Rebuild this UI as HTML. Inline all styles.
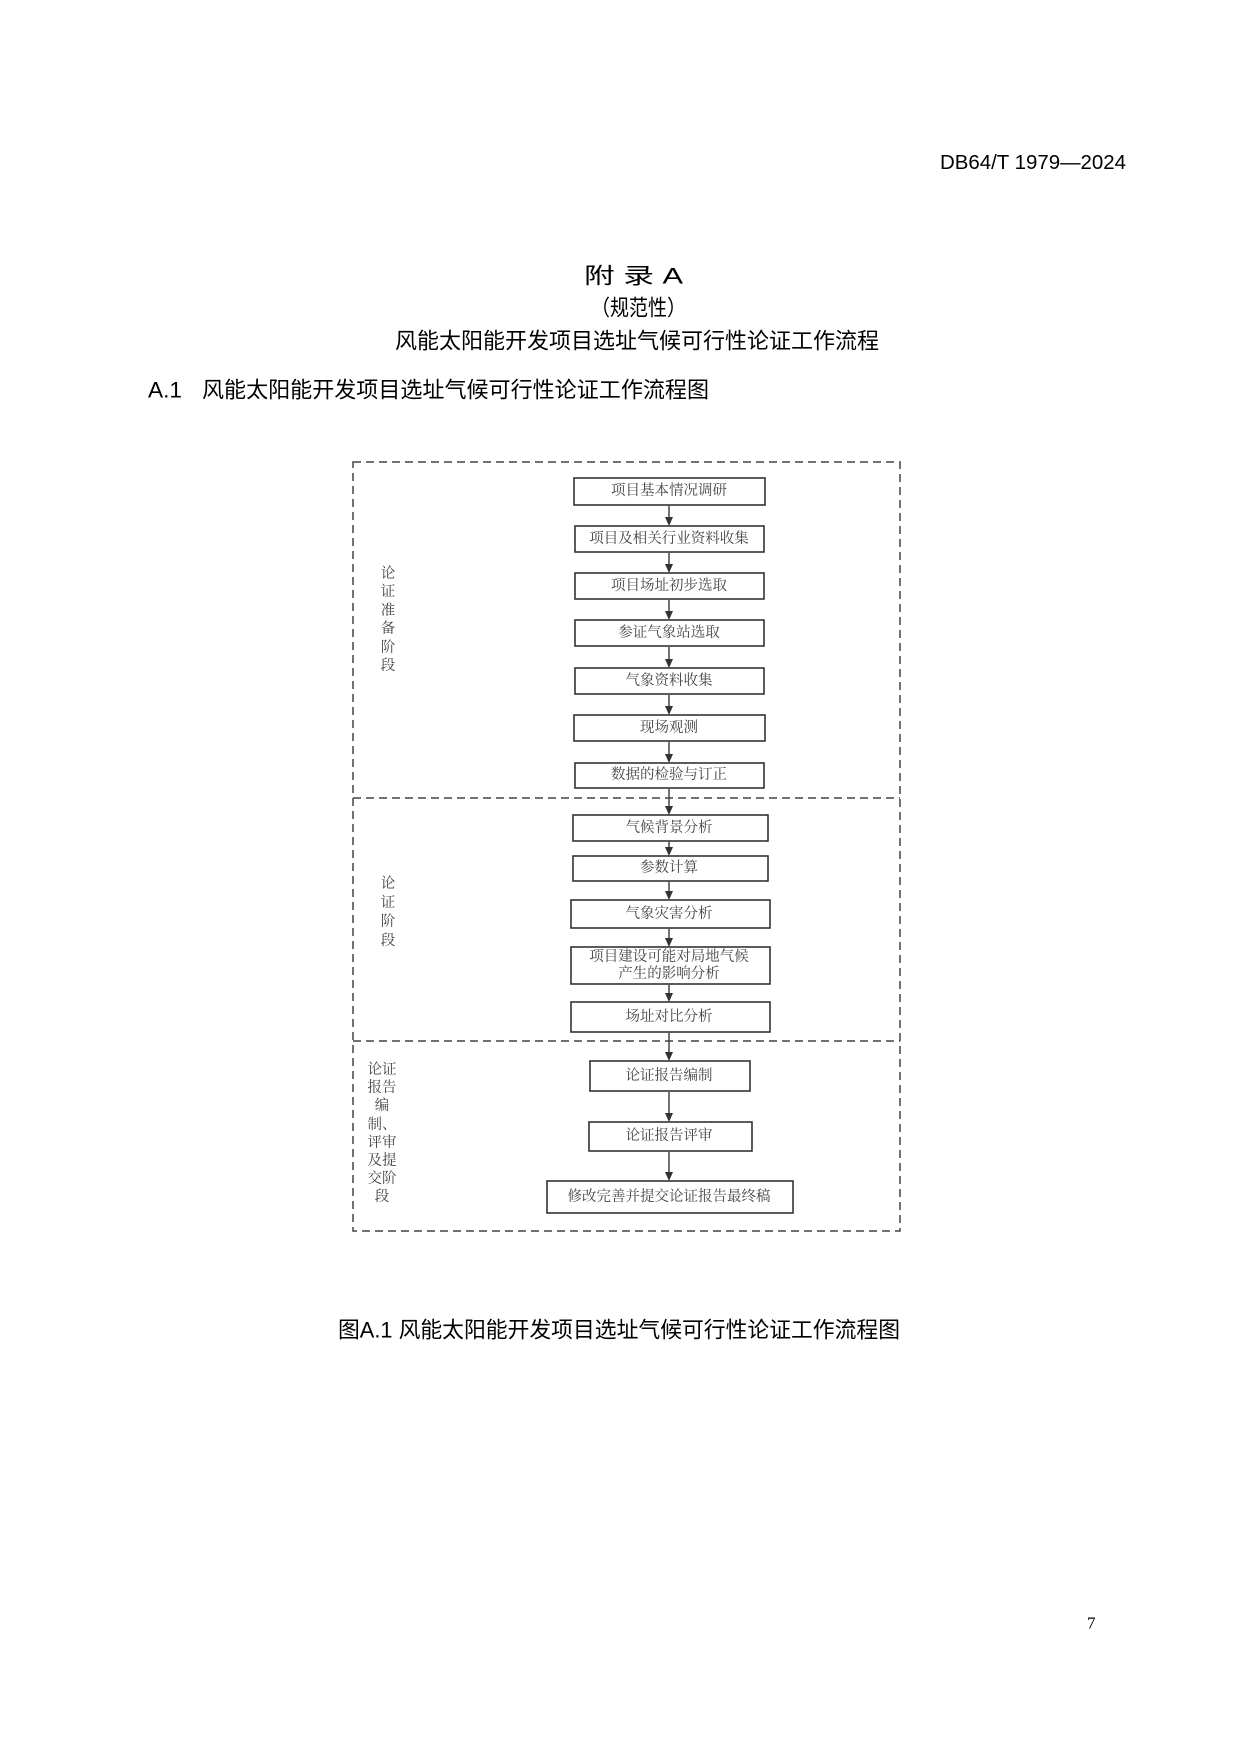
<!DOCTYPE html>
<html><head><meta charset="utf-8"><style>
html,body{margin:0;padding:0;background:#fff;}
svg{display:block;}
text{font-family:"Liberation Sans","Noto Sans CJK SC",sans-serif;}
.b{fill:#fff;stroke:#333;stroke-width:1.6;}
.t{font-size:14.5px;fill:#444;text-anchor:middle;dominant-baseline:central;font-family:"Liberation Serif","Noto Serif CJK SC",serif;}
.l{font-size:14.5px;fill:#444;text-anchor:middle;dominant-baseline:central;font-family:"Liberation Serif","Noto Serif CJK SC",serif;}
.a{stroke:#444;stroke-width:1.5;}
.h{fill:#000;dominant-baseline:central;}
</style></head><body>
<svg width="1241" height="1754" viewBox="0 0 1241 1754" xmlns="http://www.w3.org/2000/svg">
<defs><path id="ah" d="M-4,-9 L4,-9 L0,0 z" fill="#333"/></defs>

<text class="h" x="940" y="163" font-size="20" textLength="186" lengthAdjust="spacingAndGlyphs">DB64/T 1979—2024</text>
<text class="h" x="584" y="276" font-size="22" textLength="99" lengthAdjust="spacingAndGlyphs">附  录  A</text>
<text class="h" x="591" y="308" font-size="22" textLength="95" lengthAdjust="spacingAndGlyphs">（规范性）</text>
<text class="h" x="395" y="341" font-size="22" textLength="484" lengthAdjust="spacingAndGlyphs">风能太阳能开发项目选址气候可行性论证工作流程</text>
<text class="h" x="148" y="390" font-size="22" textLength="34" lengthAdjust="spacingAndGlyphs">A.1</text>
<text class="h" x="202" y="390" font-size="22" textLength="507" lengthAdjust="spacingAndGlyphs">风能太阳能开发项目选址气候可行性论证工作流程图</text>

<g fill="none" stroke="#444" stroke-width="1.5" stroke-dasharray="8,5">
<rect x="353" y="462" width="547" height="769"/>
<line x1="353" y1="798" x2="900" y2="798"/>
<line x1="353" y1="1041" x2="900" y2="1041"/>
</g>

<rect class="b" x="574" y="478" width="191" height="27"/><text class="t" x="669" y="491">项目基本情况调研</text>
<rect class="b" x="575" y="526" width="189" height="26"/><text class="t" x="669" y="539">项目及相关行业资料收集</text>
<rect class="b" x="575" y="573" width="189" height="26"/><text class="t" x="669" y="586">项目场址初步选取</text>
<rect class="b" x="575" y="620" width="189" height="26"/><text class="t" x="669" y="633">参证气象站选取</text>
<rect class="b" x="575" y="668" width="189" height="26"/><text class="t" x="669" y="681">气象资料收集</text>
<rect class="b" x="574" y="715" width="191" height="26"/><text class="t" x="669" y="728">现场观测</text>
<rect class="b" x="575" y="763" width="189" height="25"/><text class="t" x="669" y="775">数据的检验与订正</text>

<rect class="b" x="573" y="815" width="195" height="26"/><text class="t" x="669" y="828">气候背景分析</text>
<rect class="b" x="573" y="856" width="195" height="25"/><text class="t" x="669" y="868">参数计算</text>
<rect class="b" x="571" y="900" width="199" height="28"/><text class="t" x="669" y="914">气象灾害分析</text>
<rect class="b" x="571" y="947" width="199" height="37"/><text class="t" x="669" y="957">项目建设可能对局地气候</text><text class="t" x="669" y="974">产生的影响分析</text>
<rect class="b" x="571" y="1002" width="199" height="30"/><text class="t" x="669" y="1017">场址对比分析</text>

<rect class="b" x="590" y="1061" width="160" height="30"/><text class="t" x="669" y="1076">论证报告编制</text>
<rect class="b" x="589" y="1122" width="163" height="29"/><text class="t" x="669" y="1136">论证报告评审</text>
<rect class="b" x="547" y="1181" width="246" height="32"/><text class="t" x="669" y="1197">修改完善并提交论证报告最终稿</text>

<g class="a">
<line x1="669" y1="506" x2="669" y2="520"/>
<line x1="669" y1="553" x2="669" y2="567"/>
<line x1="669" y1="600" x2="669" y2="614"/>
<line x1="669" y1="647" x2="669" y2="662"/>
<line x1="669" y1="695" x2="669" y2="709"/>
<line x1="669" y1="742" x2="669" y2="757"/>
<line x1="669" y1="789" x2="669" y2="809"/>
<line x1="669" y1="842" x2="669" y2="850"/>
<line x1="669" y1="882" x2="669" y2="894"/>
<line x1="669" y1="929" x2="669" y2="941"/>
<line x1="669" y1="985" x2="669" y2="996"/>
<line x1="669" y1="1033" x2="669" y2="1055"/>
<line x1="669" y1="1092" x2="669" y2="1116"/>
<line x1="669" y1="1152" x2="669" y2="1175"/>
</g>
<use href="#ah" x="669" y="526"/>
<use href="#ah" x="669" y="573"/>
<use href="#ah" x="669" y="620"/>
<use href="#ah" x="669" y="668"/>
<use href="#ah" x="669" y="715"/>
<use href="#ah" x="669" y="763"/>
<use href="#ah" x="669" y="815"/>
<use href="#ah" x="669" y="856"/>
<use href="#ah" x="669" y="900"/>
<use href="#ah" x="669" y="947"/>
<use href="#ah" x="669" y="1002"/>
<use href="#ah" x="669" y="1061"/>
<use href="#ah" x="669" y="1122"/>
<use href="#ah" x="669" y="1181"/>

<text class="l" x="388" y="574">论</text><text class="l" x="388" y="592">证</text><text class="l" x="388" y="611">准</text><text class="l" x="388" y="629">备</text><text class="l" x="388" y="648">阶</text><text class="l" x="388" y="666">段</text>
<text class="l" x="388" y="884">论</text><text class="l" x="388" y="903">证</text><text class="l" x="388" y="922">阶</text><text class="l" x="388" y="941">段</text>
<text class="l" x="382" y="1070">论证</text><text class="l" x="382" y="1088">报告</text><text class="l" x="382" y="1106">编</text><text class="l" x="382" y="1125">制、</text><text class="l" x="382" y="1143">评审</text><text class="l" x="382" y="1161">及提</text><text class="l" x="382" y="1179">交阶</text><text class="l" x="382" y="1197">段</text>

<text class="h" x="338" y="1330" font-size="22" textLength="562" lengthAdjust="spacingAndGlyphs">图A.1 风能太阳能开发项目选址气候可行性论证工作流程图</text>

<text x="1087" y="1623" font-size="17" dominant-baseline="central" style="font-family:'Liberation Serif',serif">7</text>
</svg>
</body></html>
